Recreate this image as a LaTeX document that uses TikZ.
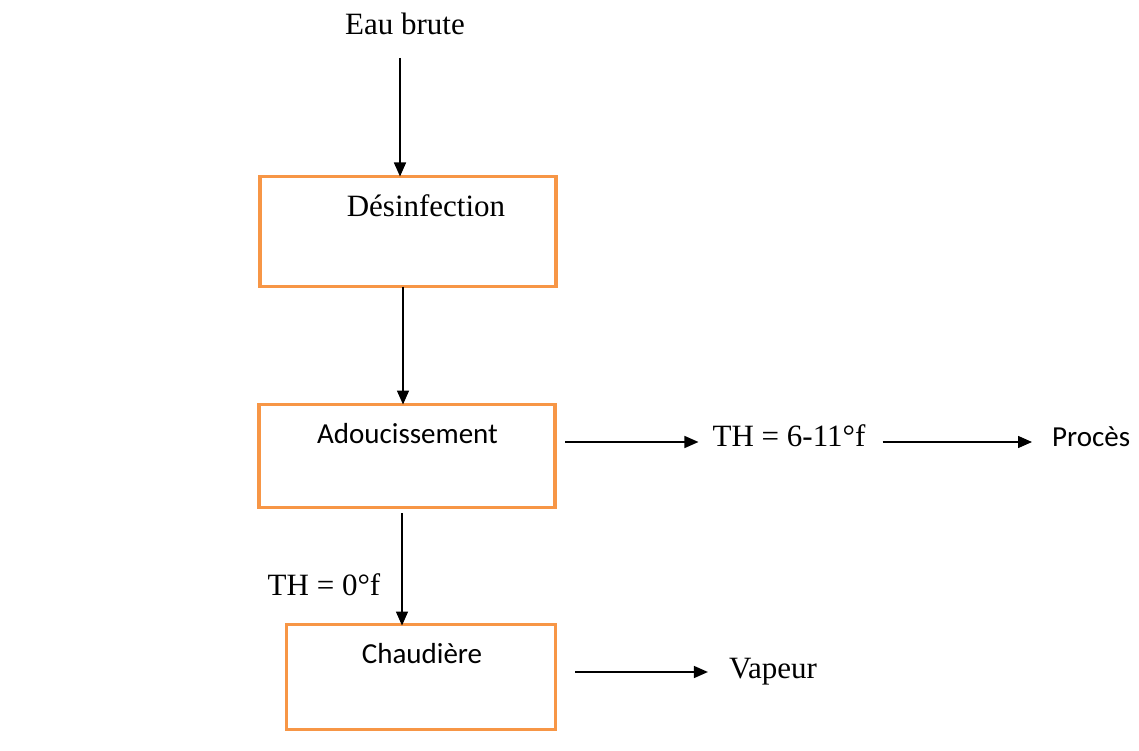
\documentclass[tikz,border=0pt]{standalone}
\usepackage{fontspec}
\setmainfont{Liberation Serif}
\newfontfamily\calib{Carlito}
\usetikzlibrary{arrows.meta}
\definecolor{boxorange}{HTML}{F79646}
\begin{document}
\begin{tikzpicture}[x=1pt,y=-1pt,
  procbox/.style={draw=boxorange,line width=3.5pt,minimum width=#1,inner sep=0pt,outer sep=0pt},
  serift/.style={font=\fontsize{31}{36}\selectfont,inner sep=0pt,anchor=base},
  sanst/.style={font=\calib\fontsize{29}{34}\selectfont,inner sep=0pt,anchor=base},
  arr/.style={line width=1.5pt,-{Triangle[length=14pt,width=12pt]}}]
\useasboundingbox (0,0) rectangle (1139,751);
% boxes
\node[procbox=296pt,minimum height=110pt] (dis) at (408,231.5) {};
\node[procbox=296pt,minimum height=103pt] (ado) at (407,456) {};
\node[procbox=269pt,minimum height=105pt] (chd) at (421,677) {};
% texts
\node[serift] (eau) at (405,35) {Eau brute};
\node[serift] (tdis) at (426,217) {Désinfection};
\node[sanst] (tado) at (407.5,443) {Adoucissement};
\node[sanst] (tchd) at (422,663) {Chaudière};
\node[serift] (th0) at (324,595) {TH = 0°f};
\node[serift] (th1) at (789,446) {TH = 6-11°f};
\node[sanst,anchor=base west] (proc) at (1052,446) {Procès};
\node[serift] (vap) at (773,678) {Vapeur};
% coordinates
\coordinate (v1) at (400,58);
\coordinate (v2) at (403,0);
\coordinate (v3) at (402,513);
\coordinate (h1) at (565,442);
\coordinate (h2) at (575,672);
% connectors
\draw[arr] (v1) -- (dis.north -| v1);
\draw[arr] (dis.south -| v2) -- (ado.north -| v2);
\draw[arr] (v3) -- ([yshift=-1pt]chd.north -| v3);
\draw[arr] (h1) -- ([xshift=-14pt]th1.west |- h1);
\draw[arr] ([xshift=17pt]th1.east |- h1) -- ([xshift=-20pt]proc.west |- h1);
\draw[arr] (h2) -- ([xshift=-21pt]vap.west |- h2);
\end{tikzpicture}
\end{document}
